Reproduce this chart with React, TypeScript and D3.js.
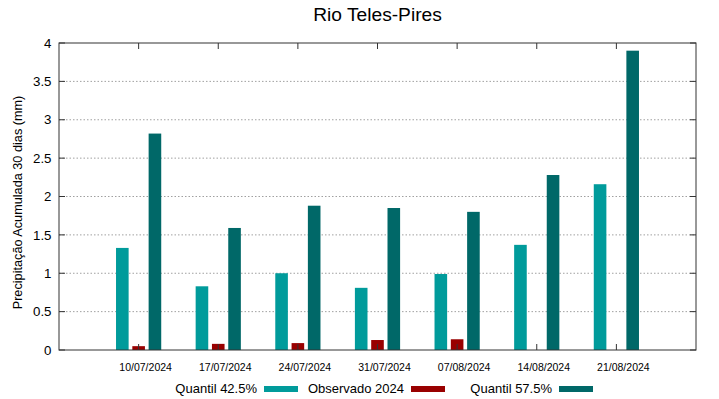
import React from "react";
import * as d3 from "d3";

const categories = ["10/07/2024", "17/07/2024", "24/07/2024", "31/07/2024", "07/08/2024", "14/08/2024", "21/08/2024"];
const quantil425 = [1.33, 0.83, 1.0, 0.81, 0.99, 1.37, 2.16];
const observado = [0.05, 0.08, 0.09, 0.13, 0.14, 0, 0];
const quantil575 = [2.82, 1.59, 1.88, 1.85, 1.8, 2.28, 3.9];
const yTicks = [0, 0.5, 1, 1.5, 2, 2.5, 3, 3.5, 4];
const seriesNames = ["Quantil 42.5%", "Observado 2024", "Quantil 57.5%"];
const colors = ["#009b9b", "#990000", "#006868"];

const W = 719, H = 399;
const m = { left: 59, right: 696, top: 43, bottom: 350 };
const font = "'Liberation Sans', Arial, sans-serif";

export default function App() {
  const x = d3.scaleLinear().domain([0, 8]).range([m.left, m.right]);
  const y = d3.scaleLinear().domain([0, 4]).range([m.bottom, m.top]);
  const bw = 12.6;
  const offsets = [-16.3, 0, 16.3];
  const series = [quantil425, observado, quantil575];
  const legendX = [[257, 264], [404, 411], [552, 559]];
  return (
    <svg width={W} height={H} style={{ display: "block", position: "absolute", left: 0, top: 0 }} fontFamily={font}>
      <rect x={0} y={0} width={W} height={H} fill="#fff" />
      <text x={(m.left + m.right) / 2} y={21} textAnchor="middle" fontSize={19.2} fill="#000">Rio Teles-Pires</text>
      {yTicks.map((t) => (
        <g key={t}>
          {t > 0 && t < 4 && (
            <line x1={m.left} x2={m.right} y1={y(t)} y2={y(t)} stroke="#a0a0a0" strokeWidth={1} strokeDasharray="1.5,2" />
          )}
          <line x1={m.left} x2={m.left + 6} y1={y(t)} y2={y(t)} stroke="#333" />
          <line x1={m.right - 6} x2={m.right} y1={y(t)} y2={y(t)} stroke="#333" />
          <text x={51.5} y={y(t) + 4.7} textAnchor="end" fontSize={13.3} fill="#000">{t}</text>
        </g>
      ))}
      {series.map((vals, si) =>
        vals.map((v, i) =>
          v > 0 ? (
            <rect key={`${si}-${i}`} x={x(i + 1) + offsets[si] - bw / 2} y={y(v)} width={bw} height={y(0) - y(v)} fill={colors[si]} />
          ) : null
        )
      )}
      {categories.map((c, i) => (
        <g key={c}>
          <line x1={x(i + 1)} x2={x(i + 1)} y1={m.bottom} y2={m.bottom - 6} stroke="#333" />
          <line x1={x(i + 1)} x2={x(i + 1)} y1={m.top} y2={m.top + 6} stroke="#333" />
          <text x={x(i + 1) + 7} y={371} textAnchor="middle" fontSize={10.5} fill="#000">{c}</text>
        </g>
      ))}
      <rect x={m.left} y={m.top} width={m.right - m.left} height={m.bottom - m.top} fill="none" stroke="#333" strokeWidth={1} />
      <text transform={`translate(21.5,202.5) rotate(-90)`} textAnchor="middle" fontSize={12.7} fill="#000">
        Precipitação Acumulada 30 dias (mm)
      </text>
      {seriesNames.map((n, i) => (
        <g key={n}>
          <text x={legendX[i][0]} y={393} textAnchor="end" fontSize={13} fill="#000">{n}</text>
          <rect x={legendX[i][1]} y={386} width={34} height={6} fill={colors[i]} />
        </g>
      ))}
    </svg>
  );
}
